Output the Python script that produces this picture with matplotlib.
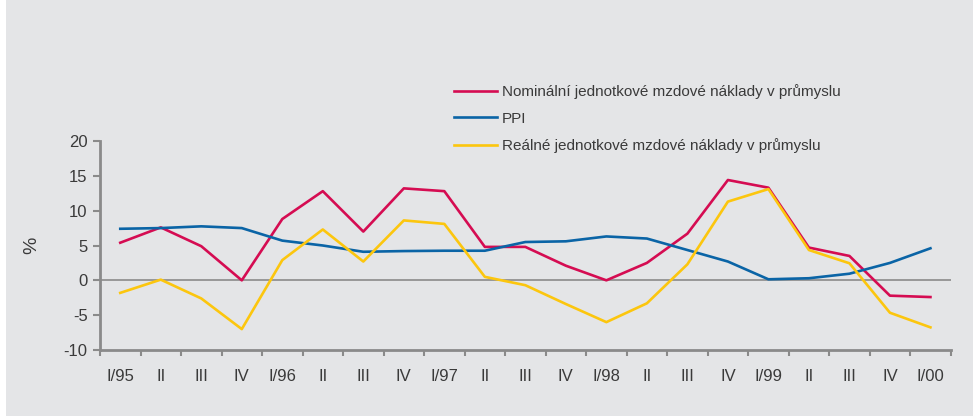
import matplotlib
matplotlib.use("Agg")
import matplotlib.pyplot as plt
from matplotlib.patches import Rectangle

# quarters I/95 .. I/00
labels = ["I/95", "II", "III", "IV", "I/96", "II", "III", "IV", "I/97", "II", "III", "IV",
          "I/98", "II", "III", "IV", "I/99", "II", "III", "IV", "I/00"]

nominal = [5.4, 7.6, 4.9, 0.0, 8.8, 12.8, 7.0, 13.2, 12.8, 4.8, 4.8, 2.1,
           0.0, 2.5, 6.7, 14.4, 13.3, 4.7, 3.5, -2.2, -2.4]
ppi = [7.4, 7.5, 7.75, 7.5, 5.7, 5.0, 4.1, 4.2, 4.25, 4.25, 5.5, 5.6,
       6.3, 6.0, 4.35, 2.7, 0.15, 0.3, 0.95, 2.5, 4.6]
real = [-1.8, 0.1, -2.6, -7.0, 2.9, 7.3, 2.7, 8.6, 8.1, 0.5, -0.7, -3.4,
        -6.0, -3.3, 2.3, 11.3, 13.1, 4.35, 2.45, -4.65, -6.75]

names = ["Nominální jednotkové mzdové náklady v průmyslu", "PPI",
         "Reálné jednotkové mzdové náklady v průmyslu"]
colors = ["#d50c52", "#0a64a6", "#fcc60e"]

plt.rcParams["font.family"] = ["Liberation Sans", "DejaVu Sans"]
plt.rcParams["axes.unicode_minus"] = False

bg = "#e4e5e7"
grey = "#8a8a8a"
txt = "#3a3a3a"

fig = plt.figure(figsize=(9.73, 4.16), dpi=100, facecolor="white")
fig.patches.append(Rectangle((6 / 973, 0), 1, 1, transform=fig.transFigure,
                             facecolor=bg, edgecolor="none", zorder=-10))

ax = fig.add_axes([100 / 973, 1 - 350 / 416, 850.7 / 973, 209 / 416])
ax.set_facecolor("none")

x = list(range(len(labels)))
lines = []
for ys, c, n in zip([nominal, ppi, real], colors, names):
    l, = ax.plot(x, ys, color=c, lw=1.9, label=n, zorder=3)
    lines.append(l)

ax.axhline(0, color=grey, lw=1.2, zorder=1)

ax.set_xlim(-0.5, len(labels) - 0.5)
ax.set_ylim(-10, 20)
ax.set_yticks([-10, -5, 0, 5, 10, 15, 20])
ax.set_xticks(x)
ax.set_xticklabels(labels)
ax.set_xticks([i - 0.5 for i in range(len(labels) + 1)], minor=True)
ax.tick_params(axis="x", which="major", length=0, pad=14, labelsize=12, labelcolor=txt)
ax.tick_params(axis="x", which="minor", length=4, width=1.5, color=grey, direction="out")
ax.tick_params(axis="y", length=5, width=1.5, color=grey, labelsize=12, labelcolor=txt, pad=4)

for s in ["top", "right"]:
    ax.spines[s].set_visible(False)
for s in ["left", "bottom"]:
    ax.spines[s].set_color(grey)
    ax.spines[s].set_linewidth(2)

ax.set_ylabel("%", fontsize=14, color=txt)
ax.yaxis.set_label_coords(-60 / 850.7, 0.5)

leg = fig.legend(handles=lines, loc="upper left", bbox_to_anchor=(454 / 973, 1 - 84 / 416),
                 frameon=False, fontsize=11, handlelength=2.8, handletextpad=0.35,
                 labelspacing=0.82, borderpad=0, borderaxespad=0)
for t in leg.get_texts():
    t.set_color(txt)

fig.savefig("out.png", dpi=100, facecolor=fig.get_facecolor())
